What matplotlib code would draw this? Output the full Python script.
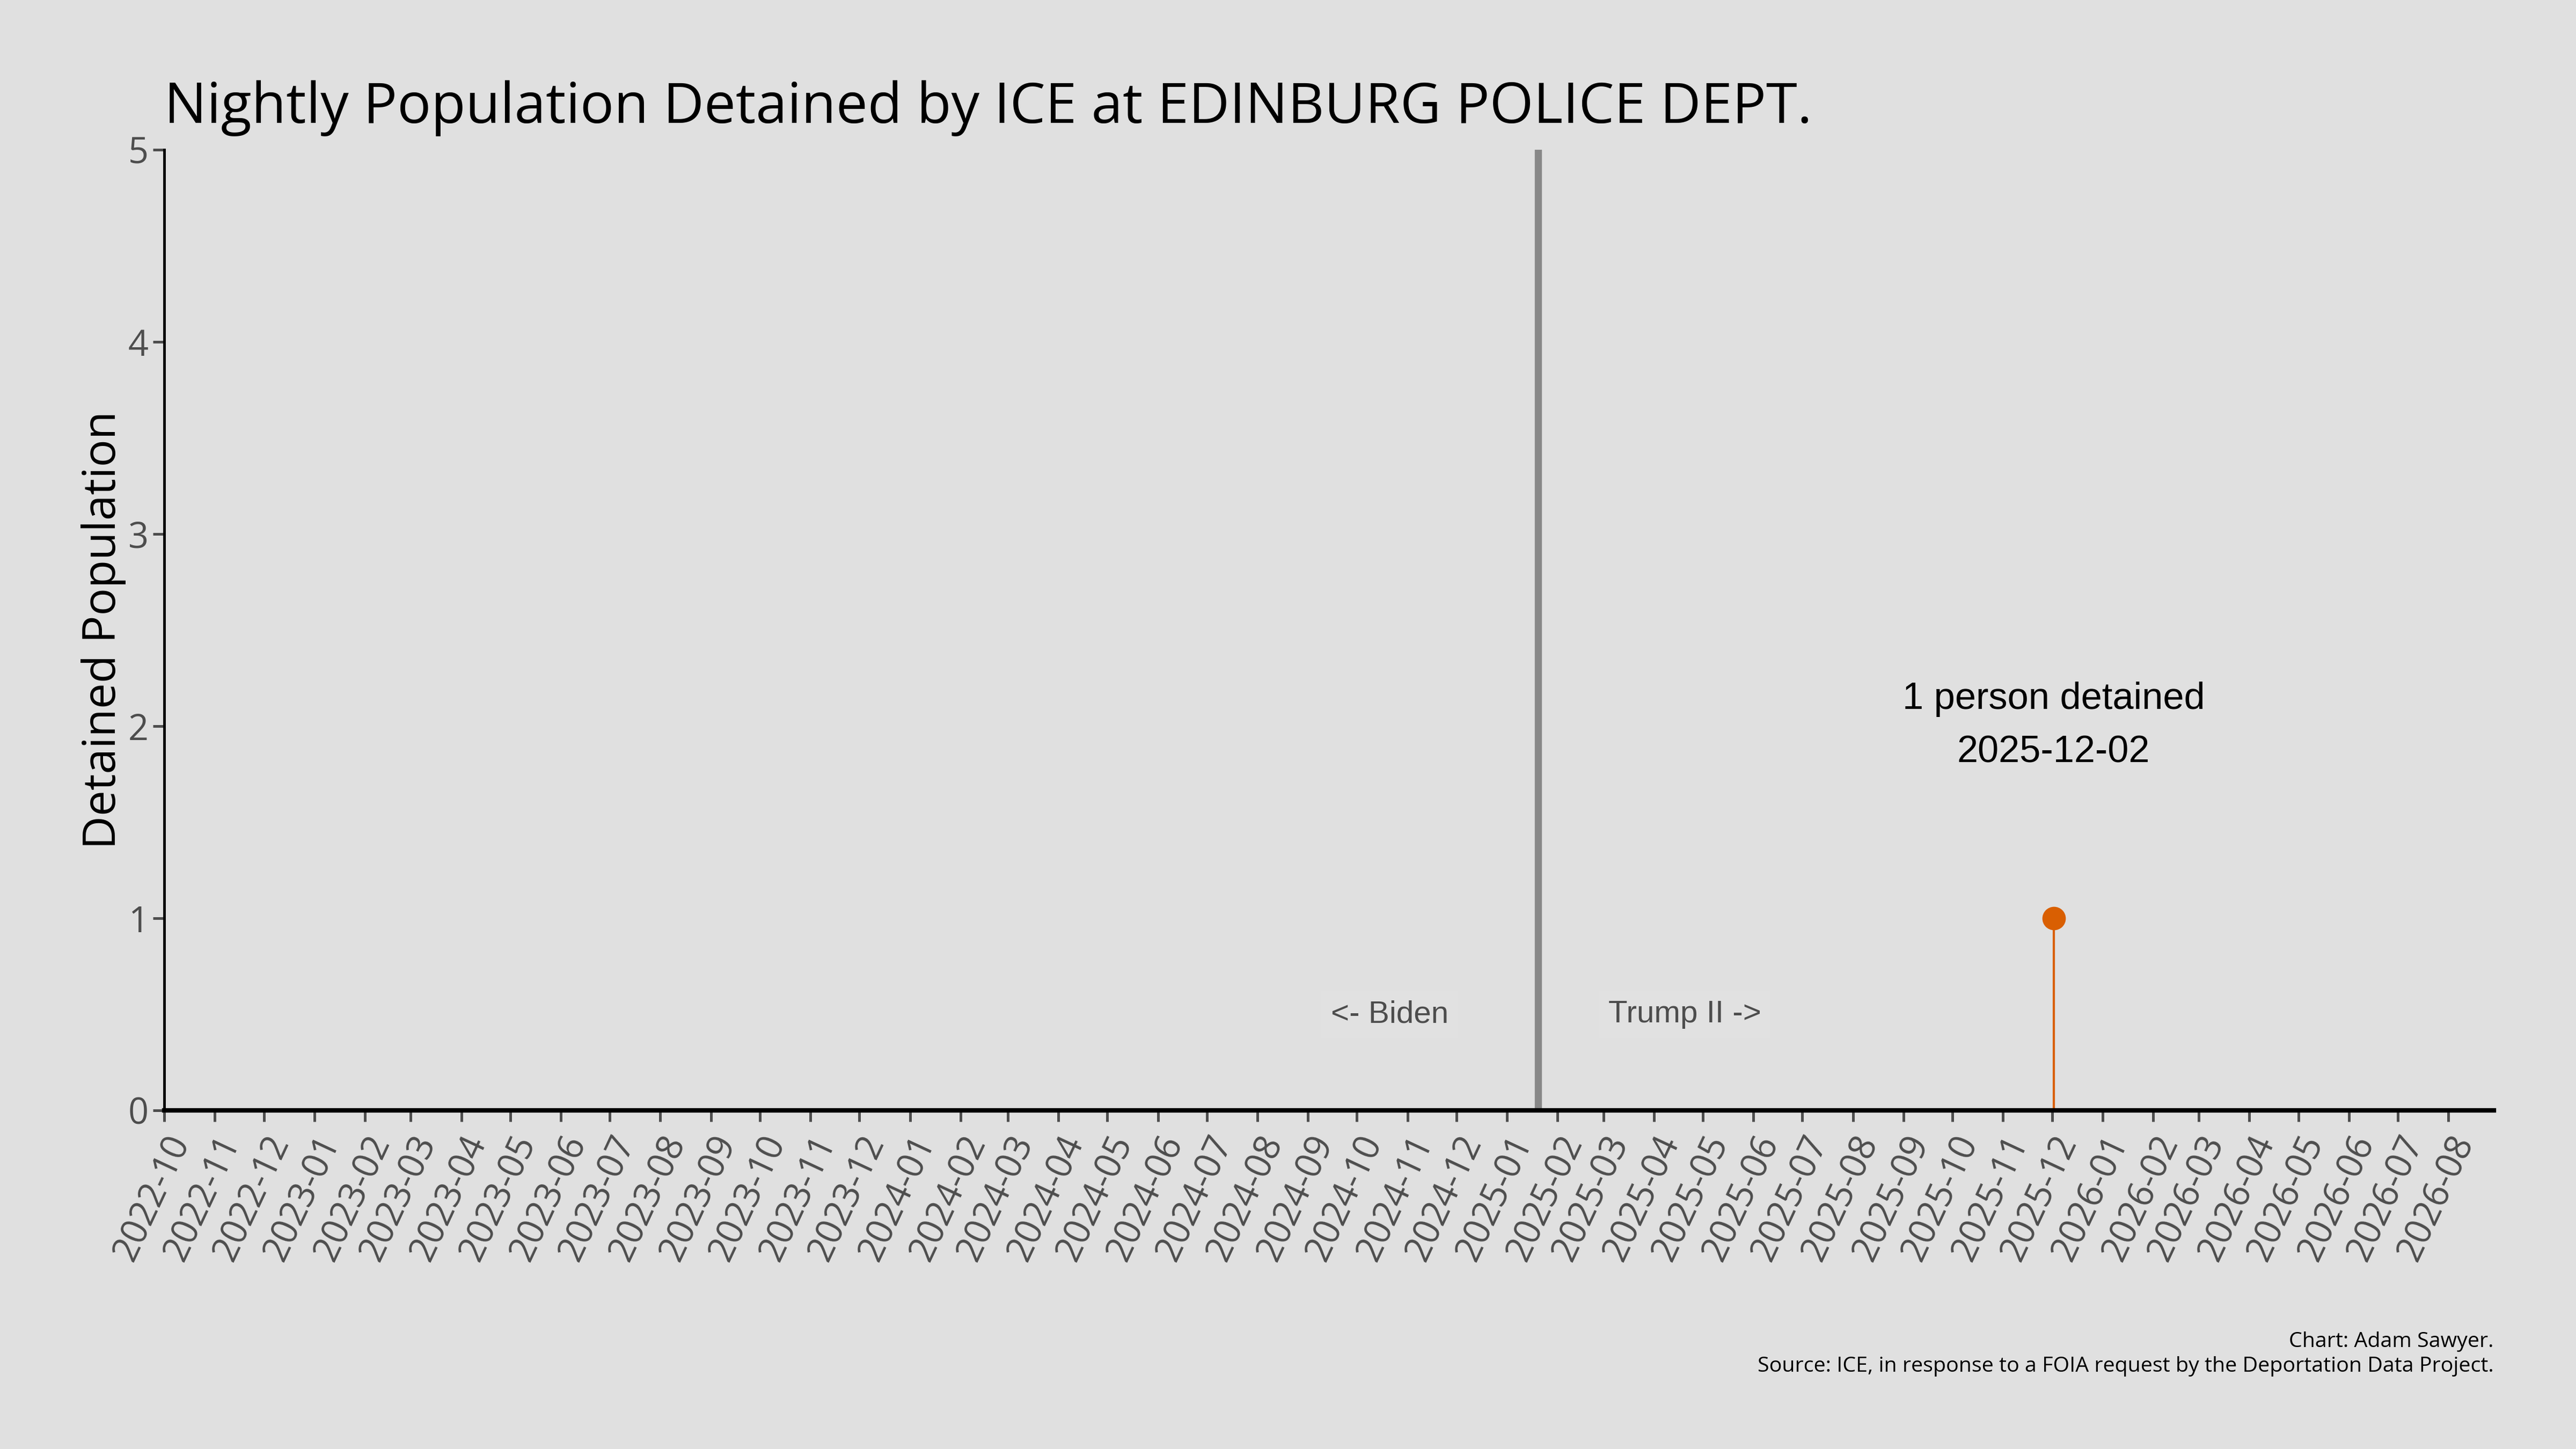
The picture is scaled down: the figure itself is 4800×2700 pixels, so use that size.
import matplotlib.pyplot as plt
import matplotlib.dates as mdates
import pandas as pd

facility = "EDINBURG POLICE DEPT."

# nights with someone detained (all other nights are zero)
detained_dates = ["2025-12-02"]
detained_counts = [1]

inauguration = "2025-01-20"
x_start = "2022-10-01"
x_end = "2026-08-29"
month_ticks = pd.date_range("2022-10-01", "2026-08-01", freq="MS")

bg = "#E0E0E0"
orange = "#D95F02"
txt_gray = "#4D4D4D"

plt.rcParams['font.family'] = ['Open Sans', 'DejaVu Sans']

fig = plt.figure(figsize=(16, 9), dpi=300, facecolor=bg)
ax = fig.add_axes([0.0638, 0.2337, 0.9044, 0.6630], facecolor=bg)

dates = pd.to_datetime(detained_dates)
ax.vlines(dates, 0, detained_counts, color=orange, linewidth=1.0)
ax.scatter(dates, detained_counts, s=90, color=orange, zorder=3)

inaug = pd.Timestamp(inauguration)
ax.axvline(inaug, color="#888888", linewidth=3.2, zorder=1)
box = dict(boxstyle="square,pad=0.3", facecolor="#E1E1E1", edgecolor="none")
ax.text(inaug - pd.Timedelta(days=91), 0.5, "<- Biden", ha="center", va="center",
        fontsize=14, color=txt_gray, family="Liberation Sans", bbox=box)
ax.text(inaug + pd.Timedelta(days=90), 0.5, "Trump II ->", ha="center", va="center",
        fontsize=14, color=txt_gray, family="Liberation Sans", bbox=box)

for d, c in zip(dates, detained_counts):
    label = "1 person detained" if c == 1 else f"{c} people detained"
    ax.text(d, 2.0, label + "\n" + d.strftime("%Y-%m-%d"), ha="center", va="center",
            fontsize=16.9, color="black", family="Liberation Sans", linespacing=1.65)

ax.set_xlim(pd.Timestamp(x_start), pd.Timestamp(x_end))
ax.set_ylim(0, 5)
ax.set_yticks(range(0, 6))
ax.set_xticks(month_ticks)
ax.xaxis.set_major_formatter(mdates.DateFormatter("%Y-%m"))
plt.setp(ax.get_xticklabels(), rotation=65, ha="right", rotation_mode="anchor")

ax.tick_params(axis="both", colors=txt_gray, labelsize=16, length=5, width=1.2)
ax.tick_params(axis="y", pad=2)
for side in ["top", "right"]:
    ax.spines[side].set_visible(False)
ax.spines["left"].set_linewidth(1.2)
ax.spines["bottom"].set_linewidth(2.0)

ax.set_ylabel("Detained Population", fontsize=20.5, color="black", labelpad=1)
ax.set_title("Nightly Population Detained by ICE at " + facility, loc="left",
             fontsize=25.2, color="black", pad=12)

fig.text(0.968, 0.081, "Chart: Adam Sawyer.\nSource: ICE, in response to a FOIA request by the Deportation Data Project.",
         ha="right", va="top", fontsize=9.45, color="black", linespacing=1.25)

fig.savefig("out.png", dpi=300, facecolor=bg)
